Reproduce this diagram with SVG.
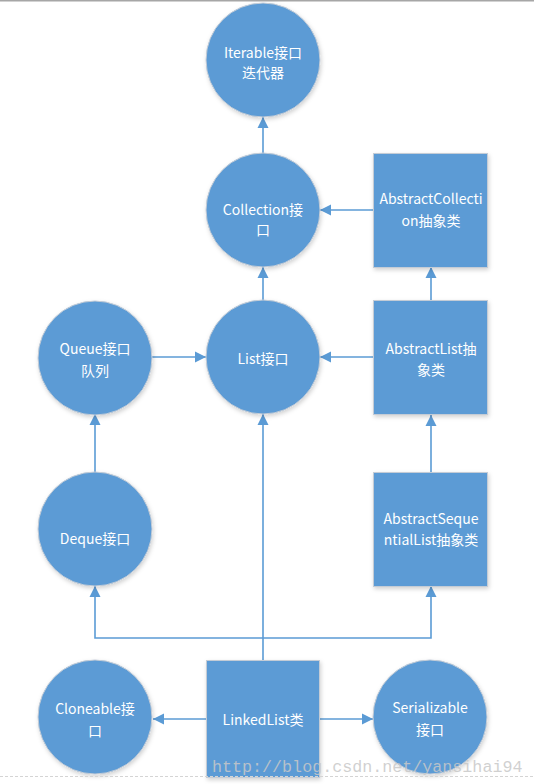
<svg xmlns="http://www.w3.org/2000/svg" width="534" height="784" viewBox="0 0 534 784">
<defs>
<style>
.n{fill:#5B9BD5;stroke:#c4ccd6;stroke-width:1;filter:url(#sh)}
.t{fill:#ffffff;font-family:"Noto Sans CJK SC","Microsoft YaHei",sans-serif;font-size:14px;text-anchor:middle;dominant-baseline:central}
.c{fill:none;stroke:#5B9BD5;stroke-width:1.6;marker-end:url(#ah)}
.c2{fill:none;stroke:#5B9BD5;stroke-width:1.6}
</style>
<marker id="ah" markerUnits="userSpaceOnUse" markerWidth="12" markerHeight="12" refX="11" refY="6" orient="auto">
<path d="M0,0.5 L11,6 L0,11.5 z" fill="#5B9BD5"/>
</marker>
<filter id="sh" x="-20%" y="-20%" width="140%" height="140%">
<feDropShadow dx="1" dy="2" stdDeviation="2" flood-color="#000" flood-opacity="0.18"/>
</filter>
</defs>
<rect x="0" y="0" width="534" height="784" fill="#ffffff"/>
<line x1="0" y1="0.8" x2="534" y2="0.8" stroke="#a6a6a6" stroke-width="1.6"/>
<g id="connectors">
<path class="c" d="M263,153 L263,117"/>
<path class="c" d="M373,210 L320,210"/>
<path class="c" d="M263,300 L263,267"/>
<path class="c" d="M431,300 L431,267"/>
<path class="c" d="M373,357 L320,357"/>
<path class="c" d="M152,357 L206,357"/>
<path class="c" d="M95,472 L95,414"/>
<path class="c" d="M431,472 L431,415"/>
<path class="c" d="M263,660 L263,414"/>
<path class="c" d="M263,638 L95,638 L95,586"/>
<path class="c" d="M263,638 L431,638 L431,586"/>
<path class="c" d="M206,719 L153,719"/>
<path class="c" d="M320,719 L373,719"/>
</g>
<g id="iterable">
<circle class="n" cx="263" cy="60" r="57"/>
<text class="t" x="263" y="52">Iterable接口</text>
<text class="t" x="263" y="72">迭代器</text>
</g>
<g id="collection">
<circle class="n" cx="263" cy="210" r="57"/>
<text class="t" x="263" y="209">Collection接</text>
<text class="t" x="263" y="229">口</text>
</g>
<g id="abstractCollection">
<rect class="n" x="373.5" y="153.5" width="114" height="114"/>
<text class="t" x="431" y="198">AbstractCollecti</text>
<text class="t" x="431" y="220">on抽象类</text>
</g>
<g id="list">
<circle class="n" cx="263" cy="357" r="57"/>
<text class="t" x="263" y="358">List接口</text>
</g>
<g id="abstractList">
<rect class="n" x="373.5" y="300.5" width="114" height="114"/>
<text class="t" x="431" y="348">AbstractList抽</text>
<text class="t" x="431" y="369">象类</text>
</g>
<g id="queue">
<circle class="n" cx="95" cy="358" r="57"/>
<text class="t" x="95" y="348">Queue接口</text>
<text class="t" x="95" y="370">队列</text>
</g>
<g id="deque">
<circle class="n" cx="95" cy="529" r="57"/>
<text class="t" x="95" y="538">Deque接口</text>
</g>
<g id="abstractSequentialList">
<rect class="n" x="373.5" y="472.5" width="114" height="114"/>
<text class="t" x="431" y="518">AbstractSeque</text>
<text class="t" x="431" y="539">ntialList抽象类</text>
</g>
<g id="cloneable">
<circle class="n" cx="95" cy="717" r="57"/>
<text class="t" x="95" y="708">Cloneable接</text>
<text class="t" x="95" y="730">口</text>
</g>
<g id="linkedList">
<rect class="n" x="206.5" y="660.5" width="113" height="117"/>
<text class="t" x="263" y="719">LinkedList类</text>
</g>
<g id="serializable">
<circle class="n" cx="430" cy="717" r="57"/>
<text class="t" x="430" y="707">Serializable</text>
<text class="t" x="430" y="729">接口</text>
</g>
<line x1="0" y1="776.5" x2="534" y2="776.5" stroke="#d4d4d4" stroke-width="1" stroke-dasharray="3,2"/>
<text x="212" y="772" fill="#c8c8c8" fill-opacity="0.85" font-family="Liberation Mono, monospace" font-size="16.7px">http://blog.csdn.net/yansihai94</text>
</svg>
